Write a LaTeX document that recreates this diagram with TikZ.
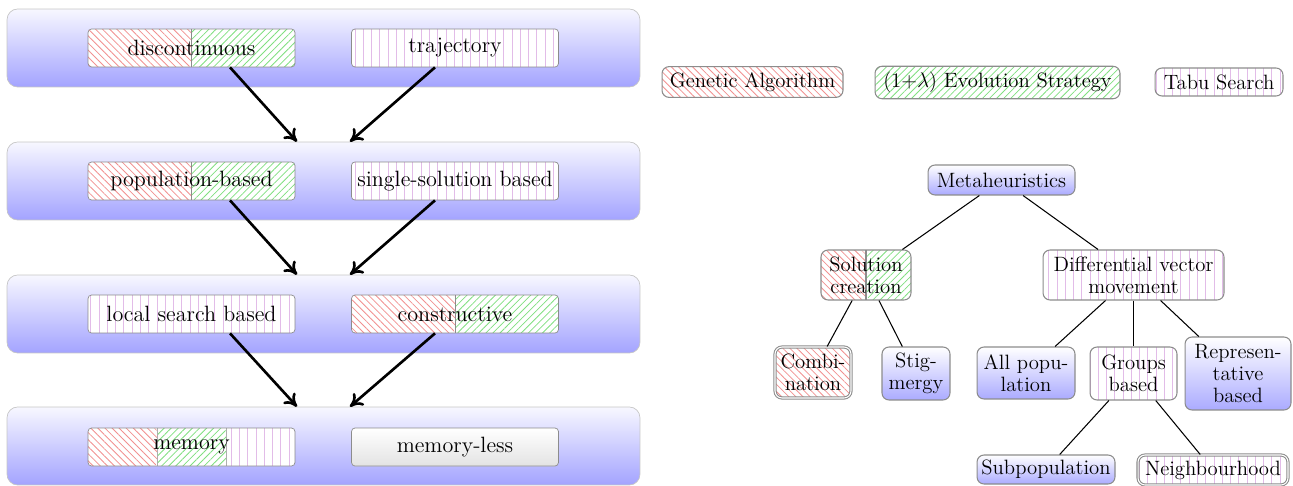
\documentclass[tikz,border=0pt]{standalone}
\usepackage{xcolor}
\definecolor{cGA}{HTML}{F29090}
\definecolor{cES}{HTML}{80E080}
\definecolor{cTS}{HTML}{E2BCE8}
\definecolor{cEdge}{HTML}{8C8C8C}
\usepackage{tikz}
\usetikzlibrary{positioning,arrows.meta,patterns.meta,calc}
\newcommand\diagfont{\fontsize{11.8}{12.6}\selectfont}
\newcommand\layerfont{\fontsize{12.6}{14}\selectfont}
\tikzset{
  layer-panel/.style={draw=gray!45,rounded corners=6pt,top color=blue!3,
    bottom color=blue!36,minimum width=12.66cm,minimum height=1.56cm},
  layer-box/.style={draw=cEdge,rounded corners=2pt,fill=white,
    minimum width=4.14cm,minimum height=0.76cm,font=\layerfont},
  tree-node/.style={draw=cEdge,semithick,rounded corners=4pt,align=center,
    font=\diagfont,inner sep=2pt},
  legend-box/.style={draw=cEdge,semithick,rounded corners=4pt,fill=white,
    minimum height=0.6cm,font=\diagfont},
  shade-blue/.style={top color=white,bottom color=blue!33},
  shade-gray/.style={top color=white,bottom color=gray!22},
  % hatch per algorithm: GA red, ES green, TS violet
  pat-ga/.style={pattern={Lines[angle=-45,distance=2.85pt,line width=0.45pt]},pattern color=cGA},
  pat-es/.style={pattern={Lines[angle=45,distance=2.85pt,line width=0.45pt]},pattern color=cES},
  pat-ts/.style={pattern={Lines[angle=90,distance=4.7pt,line width=0.45pt]},pattern color=cTS},
  hatch-ga/.style={fill=white,path picture={
    \fill[pat-ga]
      (path picture bounding box.south west) rectangle (path picture bounding box.north east);}},
  hatch-es/.style={fill=white,path picture={
    \fill[pat-es]
      (path picture bounding box.south west) rectangle (path picture bounding box.north east);}},
  hatch-ts/.style={fill=white,path picture={
    \fill[pat-ts]
      (path picture bounding box.south west) rectangle (path picture bounding box.north east);}},
  hatch-ga-es/.style={fill=white,path picture={
    \fill[pat-ga]
      (path picture bounding box.south west) rectangle (path picture bounding box.north);
    \fill[pat-es]
      (path picture bounding box.south) rectangle (path picture bounding box.north east);
    \draw[cEdge] (path picture bounding box.south) -- (path picture bounding box.north);}},
  hatch-all/.style={fill=white,path picture={
    \coordinate (hA) at ($(path picture bounding box.north west)!1/3!(path picture bounding box.north east)$);
    \coordinate (hB) at ($(path picture bounding box.south west)!2/3!(path picture bounding box.south east)$);
    \coordinate (hC) at ($(path picture bounding box.south west)!1/3!(path picture bounding box.south east)$);
    \coordinate (hD) at ($(path picture bounding box.north west)!2/3!(path picture bounding box.north east)$);
    \fill[pat-ga] (path picture bounding box.south west) rectangle (hA);
    \fill[pat-es] (hC) rectangle (hD);
    \fill[pat-ts] (hB) rectangle (path picture bounding box.north east);
    \draw[cEdge!70] (hC) -- (hA) (hB) -- (hD);}},
  arrow/.style={-{To[length=2.5mm,width=3.2mm]},line width=1.5pt},
  tree-edge/.style={draw=black,semithick},
}

\begin{document}
\begin{tikzpicture}[x=0.02cm,y=-0.02cm]
  \useasboundingbox (0,0) rectangle (1293,486);

  % layers
  \node[layer-panel] (p1) at (323.5,48) {};
  \node[layer-panel] (p2) at (323.5,181) {};
  \node[layer-panel] (p3) at (323.5,314) {};
  \node[layer-panel] (p4) at (323.5,446) {};

  \node[layer-box,hatch-ga-es] (disc) at (191.5,48) {discontinuous};
  \node[layer-box,hatch-ts] (traj) at (455,48) {trajectory};
  \node[layer-box,hatch-ga-es] (pop) at (191.5,181) {population-based};
  \node[layer-box,hatch-ts] (single) at (455,181) {single-solution based};
  \node[layer-box,hatch-ts] (local) at (191.5,314) {local search based};
  \node[layer-box,hatch-ga-es] (constr) at (455,314) {constructive};
  \node[layer-box,hatch-all] (mem) at (191.5,447) {memory};
  \node[layer-box,shade-gray] (memless) at (455,447) {memory-less};

  \draw[arrow] ([xshift=0.77cm]disc.south) -- ([xshift=-0.53cm]p2.north);
  \draw[arrow] ([xshift=-0.4cm]traj.south) -- ([xshift=0.53cm]p2.north);
  \draw[arrow] ([xshift=0.77cm]pop.south) -- ([xshift=-0.53cm]p3.north);
  \draw[arrow] ([xshift=-0.4cm]single.south) -- ([xshift=0.53cm]p3.north);
  \draw[arrow] ([xshift=0.77cm]local.south) -- ([xshift=-0.53cm]p4.north);
  \draw[arrow] ([xshift=-0.4cm]constr.south) -- ([xshift=0.53cm]p4.north);

  % legend
  \node[legend-box,hatch-ga,minimum width=3.62cm] (ga) at (752.5,82) {Genetic Algorithm};
  \node[legend-box,hatch-es,minimum width=4.9cm] (es) at (997.5,82.5) {(1+$\lambda$) Evolution Strategy};
  \node[legend-box,hatch-ts,minimum width=2.56cm,minimum height=0.56cm] (ts) at (1219,82) {Tabu Search};

  % taxonomy tree
  \node[tree-node,shade-blue,minimum width=2.94cm,minimum height=0.6cm] (meta) at (1001.5,180) {Metaheuristics};
  \node[tree-node,hatch-ga-es,minimum width=1.8cm,minimum height=1cm] (sol) at (866,275) {Solution\\creation};
  \node[tree-node,hatch-ts,minimum width=3.62cm,minimum height=1cm] (dvm) at (1133.5,275) {Differential vector\\movement};
  \node[tree-node,hatch-ga,double=white,minimum width=1.52cm,minimum height=1.02cm] (comb) at (813,372.5) {Combi-\\nation};
  \node[tree-node,shade-blue,minimum width=1.36cm,minimum height=1.06cm] (stig) at (916,373.5) {Stig-\\mergy};
  \node[tree-node,shade-blue,minimum width=1.96cm,minimum height=1.04cm] (allp) at (1026,373) {All popu-\\lation};
  \node[tree-node,hatch-ts,minimum width=1.74cm,minimum height=1.06cm] (grp) at (1133.5,373.5) {Groups\\based};
  \node[tree-node,shade-blue,minimum width=2.12cm,minimum height=1.46cm] (rep) at (1238,373.5) {Represen-\\tative\\based};
  \node[tree-node,shade-blue,minimum width=2.76cm,minimum height=0.58cm] (subp) at (1046,469.5) {Subpopulation};
  \node[tree-node,hatch-ts,double=white,minimum width=3cm,minimum height=0.6cm] (nbh) at (1213,470) {Neighbourhood};

  \draw[tree-edge] (meta) -- (sol);
  \draw[tree-edge] (meta) -- (dvm);
  \draw[tree-edge] (sol) -- (comb);
  \draw[tree-edge] (sol) -- (stig);
  \draw[tree-edge] (dvm) -- (allp);
  \draw[tree-edge] (dvm) -- (grp);
  \draw[tree-edge] (dvm) -- (rep);
  \draw[tree-edge] (grp) -- (subp);
  \draw[tree-edge] (grp) -- (nbh);
\end{tikzpicture}
\end{document}
